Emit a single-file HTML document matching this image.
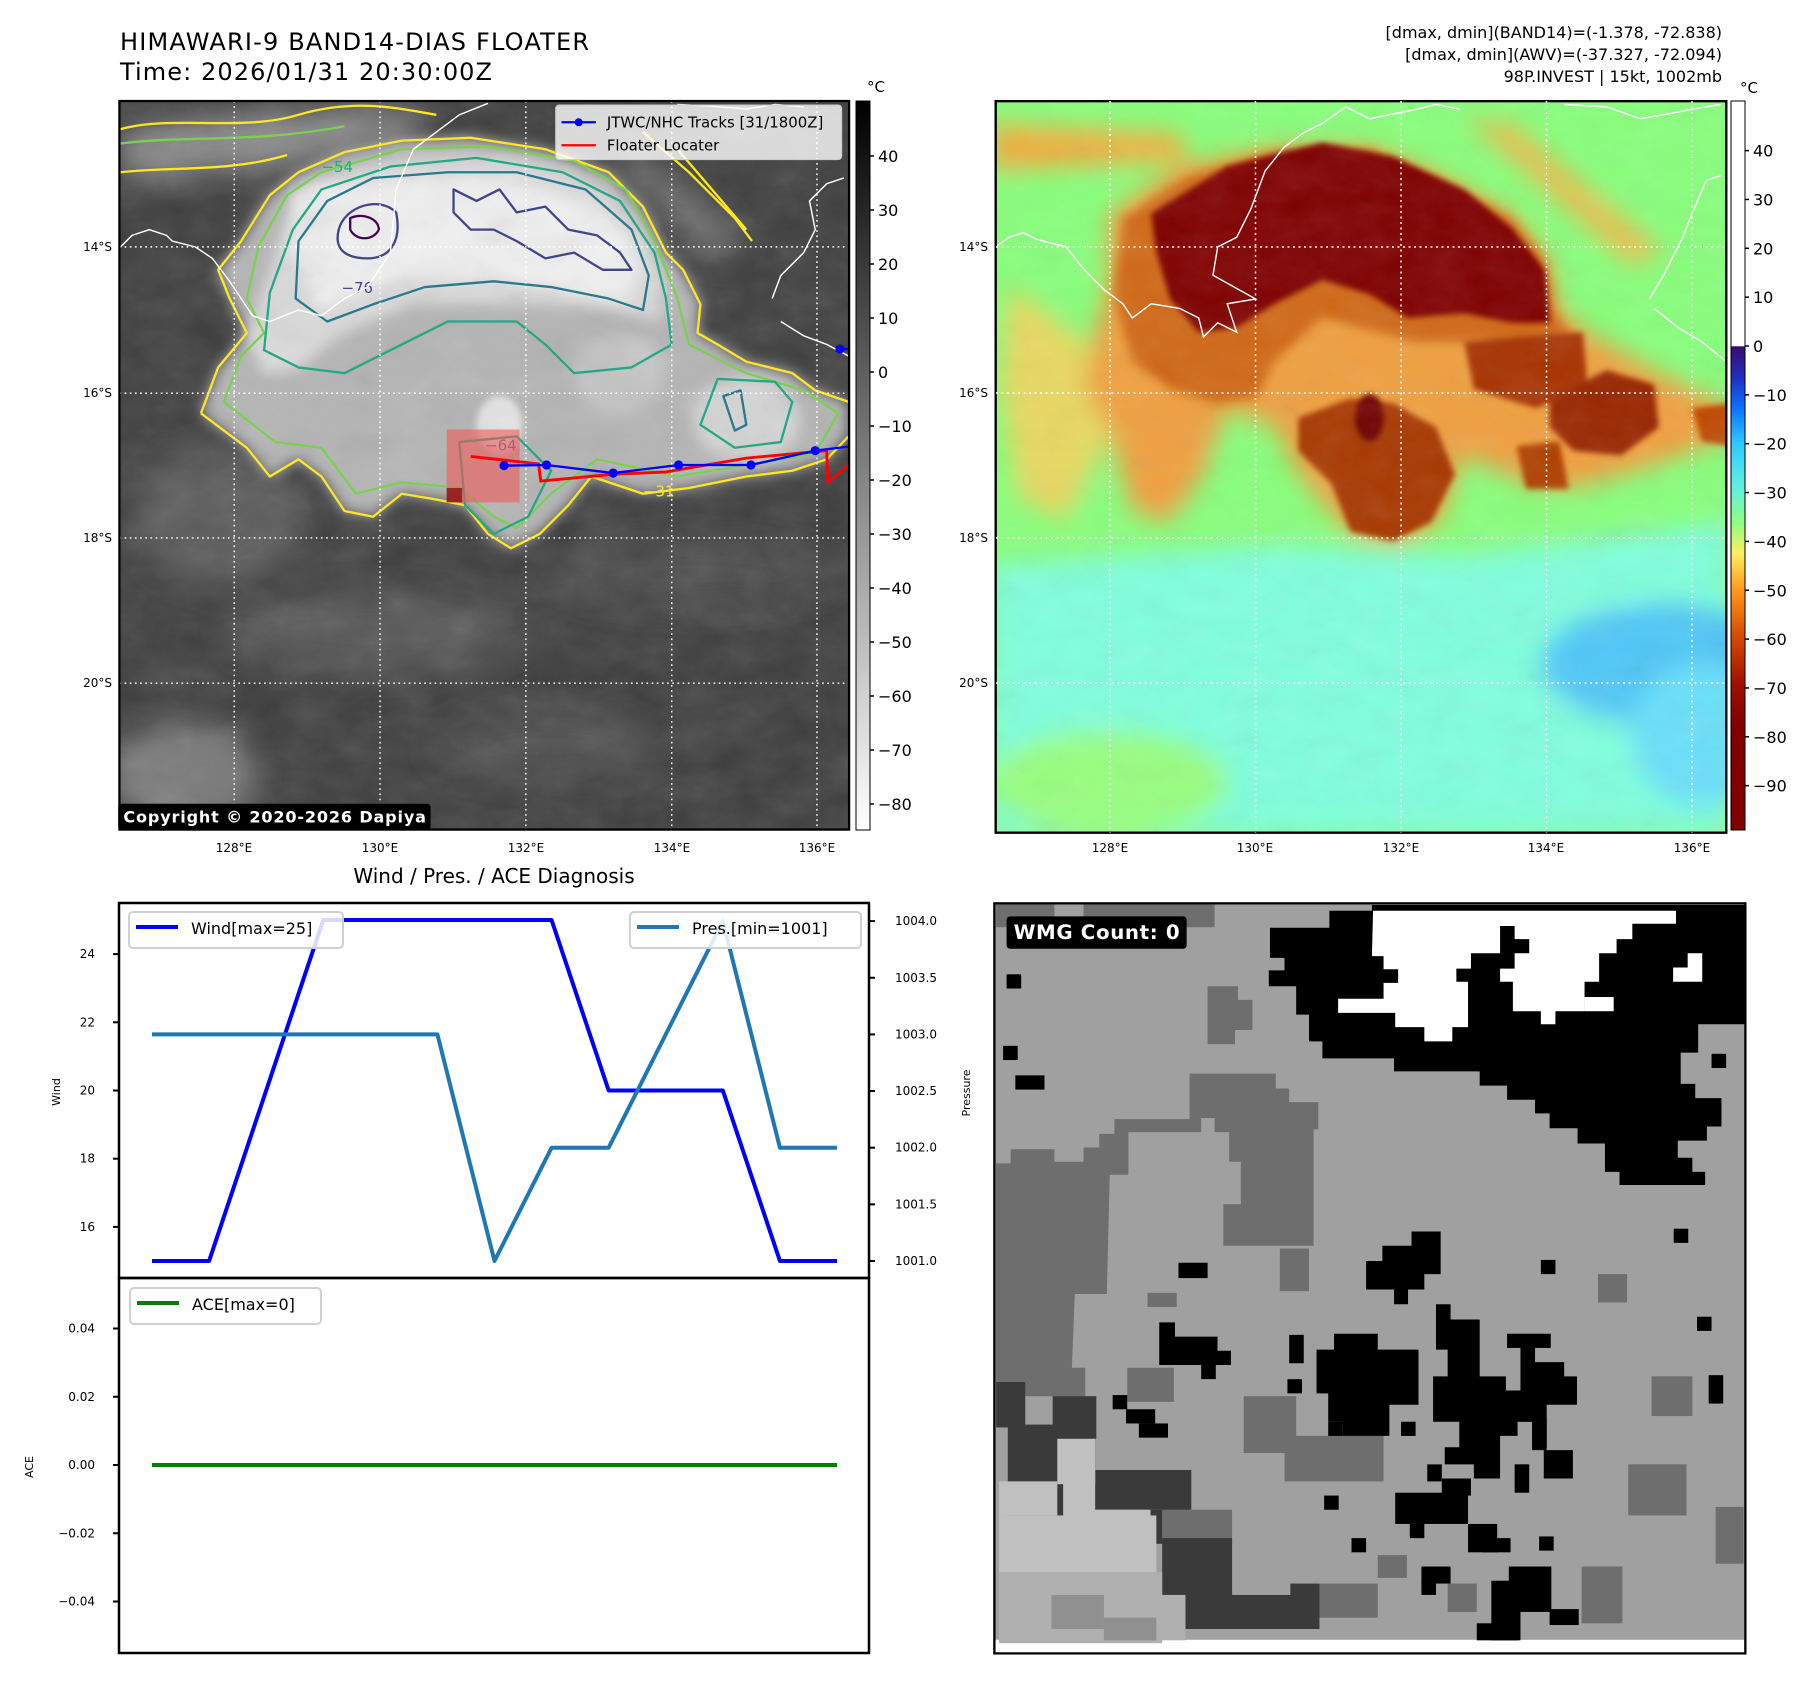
<!DOCTYPE html>
<html><head><meta charset="utf-8"><style>
html,body{margin:0;padding:0;background:#fff;}
svg{display:block;font-family:"DejaVu Sans","Liberation Sans",sans-serif;}
</style></head><body>
<svg id="fig" width="1813" height="1690" viewBox="0 0 1813 1690" xmlns="http://www.w3.org/2000/svg">
<defs>
<filter id="b12" x="-20%" y="-20%" width="140%" height="140%"><feGaussianBlur stdDeviation="12"/></filter>
<filter id="b25" x="-30%" y="-30%" width="160%" height="160%"><feGaussianBlur stdDeviation="25"/></filter>
<filter id="b6" x="-20%" y="-20%" width="140%" height="140%"><feGaussianBlur stdDeviation="6"/></filter>
<filter id="noise" x="0" y="0" width="100%" height="100%"><feTurbulence type="fractalNoise" baseFrequency="0.012 0.02" numOctaves="4" seed="7"/><feColorMatrix type="saturate" values="0"/></filter>
<clipPath id="clipL"><rect x="208" y="176" width="1271" height="1269"/></clipPath>
<clipPath id="clipR"><rect x="12" y="13" width="1540" height="1542"/></clipPath>
<linearGradient id="gGray" x1="0" y1="0" x2="0" y2="1"><stop offset="0" stop-color="#000"/><stop offset="1" stop-color="#fff"/></linearGradient>
<linearGradient id="gAwv" x1="0" y1="0" x2="0" y2="1">
<stop offset="0" stop-color="#ffffff"/><stop offset="0.336" stop-color="#ffffff"/>
<stop offset="0.337" stop-color="#3a0a70"/><stop offset="0.38" stop-color="#2030c0"/>
<stop offset="0.42" stop-color="#0a70ff"/><stop offset="0.47" stop-color="#30c8ff"/>
<stop offset="0.53" stop-color="#60f0e0"/><stop offset="0.58" stop-color="#90ff80"/>
<stop offset="0.62" stop-color="#ffee60"/><stop offset="0.67" stop-color="#ff9a20"/>
<stop offset="0.73" stop-color="#d85000"/><stop offset="0.8" stop-color="#a01000"/>
<stop offset="0.86" stop-color="#800000"/><stop offset="1" stop-color="#800000"/></linearGradient>
</defs>

<!-- Titles -->
<text x="120" y="50" font-size="24" textLength="469">HIMAWARI-9 BAND14-DIAS FLOATER</text>
<text x="120" y="80" font-size="24" textLength="372">Time: 2026/01/31 20:30:00Z</text>
<g font-size="16" text-anchor="end">
<text x="1722" y="38">[dmax, dmin](BAND14)=(-1.378, -72.838)</text>
<text x="1722" y="60">[dmax, dmin](AWV)=(-37.327, -72.094)</text>
<text x="1722" y="82">98P.INVEST | 15kt, 1002mb</text>
</g>

<!-- LEFT MAP (zoom coords scaled) -->
<g transform="scale(0.5741)">
<g clip-path="url(#clipL)">
<rect x="208" y="176" width="1271" height="1269" fill="#3e3e3e"/>
<g filter="url(#b25)">
<ellipse cx="320" cy="1350" rx="130" ry="90" fill="#7a7a7a"/>
<ellipse cx="650" cy="1100" rx="260" ry="70" fill="#565656"/>
<ellipse cx="950" cy="1300" rx="200" ry="60" fill="#505050"/>
<ellipse cx="1200" cy="1000" rx="260" ry="60" fill="#4c4c4c"/>
<ellipse cx="380" cy="900" rx="150" ry="120" fill="#5a5a5a"/>
<path d="M210,225 L400,200 600,190 760,200 700,250 500,290 380,300 210,310Z" fill="#8a8a8a"/>
<path d="M1100,250 L1300,420 1250,460 1080,300Z" fill="#707070"/>
</g>
<path d="M350,720 L380,640 430,580 400,520 380,470 420,420 470,340 520,300 600,265 700,245 820,240 950,260 1060,300 1120,360 1160,440 1190,470 1220,530 1215,580 1250,600 1300,630 1380,650 1420,680 1478,700 L1478,760 1440,800 1380,820 1300,830 1200,850 1120,860 1030,830 990,880 940,930 890,955 850,930 810,880 760,870 700,860 650,900 600,890 560,830 520,800 470,830 430,780Z" fill="#b4b4b4" filter="url(#b12)"/>
<path d="M430,580 L470,470 500,380 540,320 620,290 750,270 880,270 1000,300 1080,350 1130,420 1160,500 1150,560 1070,540 950,530 850,530 720,530 600,580 520,640 460,660Z" fill="#dadada" filter="url(#b12)"/>
<path d="M510,330 L700,310 900,310 1060,370 1120,460 1090,530 900,490 700,480 560,540 510,450Z" fill="#f0f0f0" filter="url(#b12)"/>
<ellipse cx="1300" cy="730" rx="95" ry="75" fill="#d4d4d4" filter="url(#b12)"/>
<ellipse cx="1080" cy="650" rx="80" ry="70" fill="#c4c4c4" filter="url(#b12)"/>
<ellipse cx="870" cy="740" rx="40" ry="50" fill="#e4e4e4" filter="url(#b6)"/>
<rect x="208" y="176" width="1271" height="1269" filter="url(#noise)" opacity="0.18"/>
<!-- contours -->
<g fill="none" stroke-width="4" stroke-linejoin="round">
<path d="M350,720 L380,640 430,580 400,520 380,470 420,420 470,340 520,300 600,265 700,245 820,240 950,260 1060,300 1120,360 1160,440 1190,470 1220,530 1215,580 1250,600 1300,630 1380,650 1420,680 1478,700 M1478,760 L1440,800 1380,820 1300,830 1200,850 1120,860 1030,830 990,880 940,930 890,955 850,930 810,880 760,870 700,860 650,900 600,890 560,830 520,800 470,830 430,780 350,720" stroke="#fde725"/>
<path d="M210,225 C300,200 420,230 520,200 S700,190 760,200 M210,300 C300,290 400,300 500,270" stroke="#fde725"/>
<path d="M1120,230 L1200,300 1280,380 1310,420 M1180,260 L1300,400" stroke="#fde725"/>
<path d="M390,700 L420,620 460,580 430,520 450,430 500,340 560,300 700,260 850,255 1000,280 1090,330 1140,420 1180,520 1200,600 1300,650 1400,680 1460,720 1420,790 1300,810 1180,830 1040,800 960,860 900,920 860,900 800,850 700,840 620,860 560,780 480,770Z" stroke="#7ad151"/>
<path d="M210,250 C330,235 440,250 600,220" stroke="#7ad151"/>
<path d="M460,610 L470,510 510,400 560,330 680,290 830,275 980,300 1080,350 1140,440 1160,520 1170,600 1100,640 1000,650 950,600 900,560 780,560 680,610 600,650 520,640Z" stroke="#22a884"/>
<path d="M1250,660 L1350,665 1380,700 1360,770 1280,780 1220,740Z" stroke="#22a884"/>
<path d="M800,770 L900,760 960,820 920,900 860,930 810,880Z" stroke="#22a884"/>
<path d="M515,520 L520,420 570,350 650,310 780,300 900,300 1020,330 1100,400 1130,480 1120,540 1060,520 960,500 860,490 740,500 650,530 570,560Z" stroke="#2a788e"/>
<path d="M1260,690 L1290,680 1300,740 1280,750Z" stroke="#2a788e"/>
<path d="M590,400 C600,360 660,340 690,370 C700,420 680,450 640,450 C610,450 580,440 590,400Z" stroke="#414487"/>
<path d="M790,330 L830,350 870,330 900,370 950,360 990,400 1040,410 1080,440 1100,470 1050,470 1000,440 950,450 900,420 860,400 820,400 790,370Z" stroke="#414487"/>
<path d="M610,380 C630,370 660,380 660,400 C650,420 620,420 610,400Z" stroke="#440154"/>
</g>
<g font-size="26" fill="#2a788e">
<text x="595" y="510" fill="#414487">−76</text>
<text x="845" y="785">−64</text>
<text x="560" y="300" fill="#22a884">−54</text>
<text x="1120" y="865" fill="#fde725">−31</text>
</g>
<!-- coastlines -->
<g fill="none" stroke="#fff" stroke-width="2.5">
<path d="M210,430 L230,410 260,400 290,410 300,420 340,430 370,450 400,490 420,520 440,550 470,560 520,540 560,550 600,520 640,500 680,440 690,330 720,260 760,230 800,200 850,180"/>
<path d="M1180,182 L1240,185 1300,190 1350,182 1400,186"/>
<path d="M1345,520 L1360,480 1400,440 1420,400 1410,350 1440,320 1470,310"/>
<path d="M1360,560 L1400,585 1440,600 1478,620"/>
</g>
<!-- grid -->
<g stroke="#fff" stroke-width="2.5" stroke-dasharray="3,6">
<line x1="408" y1="176" x2="408" y2="1445"/><line x1="662" y1="176" x2="662" y2="1445"/>
<line x1="916" y1="176" x2="916" y2="1445"/><line x1="1170" y1="176" x2="1170" y2="1445"/>
<line x1="1423" y1="176" x2="1423" y2="1445"/>
<line x1="208" y1="430" x2="1479" y2="430"/><line x1="208" y1="685" x2="1479" y2="685"/>
<line x1="208" y1="937" x2="1479" y2="937"/><line x1="208" y1="1190" x2="1479" y2="1190"/>
</g>
<!-- floater box & tracks -->
<rect x="778" y="748" width="127" height="127" fill="rgba(240,90,90,0.6)"/>
<rect x="778" y="850" width="27" height="25" fill="#8a1010" opacity="0.8"/>
<polyline points="820,795 938,808 942,838 1070,826 1160,822 1300,798 1440,785 1442,840 1478,810" fill="none" stroke="#ff0000" stroke-width="5"/>
<g>
<polyline points="878,811 952,810 1068,824 1182,810 1308,810 1420,785 1478,778" fill="none" stroke="#0000ff" stroke-width="4"/>
<g fill="#0000ff"><circle cx="878" cy="811" r="8"/><circle cx="952" cy="810" r="8"/><circle cx="1068" cy="824" r="8"/><circle cx="1182" cy="810" r="8"/><circle cx="1308" cy="810" r="8"/><circle cx="1420" cy="785" r="8"/><circle cx="1463" cy="608" r="8"/></g>
<line x1="1463" y1="608" x2="1479" y2="608" stroke="#0000ff" stroke-width="4"/>
</g>
</g>
<rect x="208" y="176" width="1271" height="1269" fill="none" stroke="#000" stroke-width="4"/>
<!-- legend -->
<g>
<rect x="968" y="183" width="498" height="95" rx="6" fill="rgba(255,255,255,0.8)" stroke="#ccc" stroke-width="2"/>
<line x1="978" y1="213" x2="1038" y2="213" stroke="#0000ff" stroke-width="4"/><circle cx="1008" cy="213" r="7" fill="#0000ff"/>
<text x="1057" y="222" font-size="26">JTWC/NHC Tracks [31/1800Z]</text>
<line x1="978" y1="253" x2="1038" y2="253" stroke="#ff0000" stroke-width="4"/>
<text x="1057" y="262" font-size="26">Floater Locater</text>
</g>
<g>
<rect x="206" y="1400" width="544" height="45" rx="6" fill="#000"/>
<text x="215" y="1433" font-size="28" font-weight="bold" fill="#fff" textLength="527">Copyright © 2020-2026 Dapiya</text>
</g>
</g>

<!-- left map axis labels -->
<g font-size="12">
<g text-anchor="end"><text x="112" y="251">14°S</text><text x="112" y="397">16°S</text><text x="112" y="542">18°S</text><text x="112" y="687">20°S</text></g>
<g text-anchor="middle"><text x="234" y="852">128°E</text><text x="380" y="852">130°E</text><text x="526" y="852">132°E</text><text x="672" y="852">134°E</text><text x="817" y="852">136°E</text></g>
</g>
<!-- left colorbar -->
<g>
<rect x="856" y="101" width="14" height="729" fill="url(#gGray)" stroke="#000" stroke-width="1"/>
<text x="867" y="92" font-size="15">°C</text>
<g font-size="16" id="cbL"></g>
</g>

<!-- RIGHT MAP -->
<g transform="translate(990,95) scale(0.4744)">
<g clip-path="url(#clipR)">
<rect x="12" y="13" width="1540" height="1542" fill="#88ff7c"/>
<g filter="url(#b25)">
<path d="M0,990 L600,950 1000,970 1560,900 1560,1560 0,1560Z" fill="#80ffdc"/>
<ellipse cx="1420" cy="1200" rx="260" ry="130" fill="#50c8f8"/>
<ellipse cx="1500" cy="1350" rx="150" ry="150" fill="#6ae0fa"/>
<ellipse cx="250" cy="1450" rx="250" ry="110" fill="#98ff80"/>
<path d="M0,60 L400,80 420,140 0,160Z" fill="#f0b040"/>
<path d="M1000,50 L1100,60 1420,330 1350,360Z" fill="#e8c050"/>
<path d="M40,400 L200,520 260,700 160,900 60,850 20,600Z" fill="#e8d860"/>
<path d="M250,250 L400,150 600,110 800,110 950,170 1100,250 1180,350 1200,450 1260,500 1400,580 1480,620 1560,660 1560,720 1400,780 1230,830 1130,820 1000,760 950,900 850,950 750,920 650,800 600,700 500,660 450,800 380,900 300,880 250,700 200,620 220,500 250,400Z" fill="#f0a040"/>
</g>
<path d="M280,260 L420,170 600,120 800,115 950,180 1100,260 1170,350 1190,460 1240,520 1130,540 1000,520 900,520 700,470 600,560 560,640 480,650 380,620 300,560 260,420Z" fill="#d06818" filter="url(#b12)"/>
<path d="M340,250 L500,150 700,100 850,130 1000,200 1100,280 1170,370 1180,480 1100,480 1000,460 880,470 800,420 700,390 600,440 520,490 440,500 380,430 350,330Z" fill="#800000" filter="url(#b6)"/>
<path d="M650,680 L760,640 850,650 940,700 980,800 930,900 850,940 760,920 720,820 650,750Z" fill="#a83800" filter="url(#b6)"/>
<ellipse cx="800" cy="680" rx="30" ry="50" fill="#700000" filter="url(#b6)"/>
<path d="M1000,520 L1250,500 1260,620 1150,660 1020,620Z" fill="#a83000" filter="url(#b6)"/>
<path d="M1180,640 L1300,580 1400,610 1410,700 1330,760 1230,750 1180,700Z" fill="#9a2800" filter="url(#b6)"/>
<path d="M1110,740 L1200,730 1220,830 1130,830Z" fill="#b04000" filter="url(#b6)"/>
<path d="M1480,660 L1560,650 1560,740 1500,730Z" fill="#c04800" filter="url(#b6)"/>
<rect x="12" y="13" width="1540" height="1542" filter="url(#noise)" opacity="0.12"/>
<g fill="none" stroke="#fff" stroke-width="3">
<path d="M12,320 L40,300 70,290 100,305 160,320 200,370 240,410 280,440 300,470 340,440 400,450 440,470 450,510 480,480 520,500 500,440 560,430 470,380 480,320 520,300 550,240 580,160 620,110 660,80 700,60 750,25 800,50 850,40 900,30 940,20 990,30"/>
<path d="M1210,20 L1300,25 1370,50 1430,40 1480,30 1540,20"/>
<path d="M1390,430 L1420,380 1460,300 1480,250 1510,180 1540,170"/>
<path d="M1400,450 L1450,490 1500,520 1550,560"/>
</g>
</g>
<rect x="12" y="13" width="1540" height="1542" fill="none" stroke="#000" stroke-width="5"/>
</g>
<g stroke="#fff" stroke-width="1.5" stroke-dasharray="2,3.5">
<line x1="1110" y1="101" x2="1110" y2="833"/><line x1="1255.5" y1="101" x2="1255.5" y2="833"/>
<line x1="1401" y1="101" x2="1401" y2="833"/><line x1="1546.5" y1="101" x2="1546.5" y2="833"/>
<line x1="1692" y1="101" x2="1692" y2="833"/>
<line x1="996" y1="247" x2="1725" y2="247"/><line x1="996" y1="393" x2="1725" y2="393"/>
<line x1="996" y1="538" x2="1725" y2="538"/><line x1="996" y1="683" x2="1725" y2="683"/>
</g>
<g font-size="12">
<g text-anchor="end"><text x="988" y="251">14°S</text><text x="988" y="397">16°S</text><text x="988" y="542">18°S</text><text x="988" y="687">20°S</text></g>
<g text-anchor="middle"><text x="1110" y="852">128°E</text><text x="1255" y="852">130°E</text><text x="1401" y="852">132°E</text><text x="1546" y="852">134°E</text><text x="1692" y="852">136°E</text></g>
</g>
<g>
<rect x="1731" y="101" width="14" height="729" fill="url(#gAwv)" stroke="#000" stroke-width="1"/>
<text x="1740" y="93" font-size="15">°C</text>
<g font-size="16" id="cbR"></g>
</g>

<!-- Bottom-left chart -->
<text x="494" y="883" font-size="20" text-anchor="middle">Wind / Pres. / ACE Diagnosis</text>
<g id="chart"></g>

<!-- Bottom-right WMG panel -->
<g transform="translate(900,800) scale(0.5826,0.5678)">
<rect x="162" y="182" width="1289" height="1321" fill="#fff"/>
<rect x="164" y="184" width="1285" height="1295" fill="#a0a0a0"/>
<g fill="#6e6e6e">
<rect x="165" y="184" width="100" height="40"/><rect x="315" y="184" width="225" height="40"/>
<path d="M165,640 L190,640 190,615 265,615 265,637 315,637 315,612 342,612 342,588 368,588 368,562 497,562 497,482 645,482 645,508 668,508 668,532 718,532 718,580 710,580 710,785 555,785 555,712 585,712 585,637 565,637 565,585 540,585 540,560 517,560 517,585 392,585 392,660 360,660 355,870 300,870 295,1000 318,1000 318,1050 165,1050Z"/>
<path d="M528,328 L580,328 580,352 605,352 605,405 575,405 575,430 528,430Z"/>
<rect x="652" y="790" width="50" height="75"/><rect x="425" y="868" width="50" height="25"/>
<rect x="1198" y="835" width="50" height="50"/><rect x="660" y="1120" width="170" height="80"/>
<rect x="590" y="1050" width="90" height="100"/><rect x="1250" y="1170" width="100" height="90"/>
<rect x="1400" y="1245" width="48" height="100"/><rect x="1290" y="1015" width="70" height="70"/>
<rect x="1170" y="1350" width="70" height="100"/><rect x="720" y="1380" width="100" height="60"/>
<rect x="450" y="1250" width="120" height="60"/><rect x="820" y="1330" width="50" height="40"/>
<rect x="390" y="1000" width="80" height="60"/><rect x="940" y="1380" width="50" height="50"/>
</g>
<g fill="#3a3a3a">
<rect x="165" y="1025" width="50" height="80"/><rect x="185" y="1100" width="150" height="180"/>
<rect x="262" y="1050" width="75" height="75"/><rect x="330" y="1180" width="170" height="70"/>
<rect x="425" y="1250" width="25" height="60"/><rect x="450" y="1300" width="120" height="110"/>
<rect x="490" y="1400" width="230" height="60"/><rect x="670" y="1380" width="50" height="50"/>
</g>
<g fill="#c0c0c0">
<rect x="270" y="1125" width="65" height="80"/><rect x="170" y="1200" width="100" height="60"/>
<rect x="280" y="1180" width="55" height="90"/><rect x="170" y="1260" width="270" height="100"/>
<rect x="300" y="1250" width="130" height="30"/>
</g>
<g fill="#b0b0b0"><rect x="170" y="1360" width="280" height="125"/><rect x="440" y="1400" width="50" height="80"/></g>
<g fill="#909090"><rect x="260" y="1400" width="90" height="60"/><rect x="350" y="1440" width="90" height="40"/></g>
<g fill="#000">
<path d="M737,195 L810,195 810,185 1450,185 1450,395 1370,395 1370,445 1340,445 1340,500 1365,500 1365,525 1410,525 1410,575 1385,575 1385,600 1335,600 1335,630 1360,630 1360,655 1382,655 1382,678 1235,678 1235,655 1210,655 1210,605 1163,605 1163,578 1115,578 1115,552 1090,552 1090,528 1042,528 1042,503 995,503 995,478 848,478 848,455 725,455 725,425 702,425 702,378 680,378 680,328 633,328 633,300 660,300 660,278 635,278 635,225 737,225Z"/>
<path d="M878,760 L928,760 928,835 900,835 900,862 872,862 872,888 848,888 848,862 800,862 800,812 828,812 828,785 878,785Z"/>
<path d="M745,940 L820,940 820,968 890,968 890,1065 840,1065 840,1120 760,1120 760,1095 735,1095 735,1045 715,1045 715,968 745,968Z"/>
<path d="M920,888 L945,888 945,915 995,915 995,1015 1040,1015 1040,1040 1085,1040 1085,1095 1060,1095 1060,1120 1030,1120 1030,1195 985,1195 985,1170 930,1170 930,1200 905,1200 905,1170 935,1170 935,1140 960,1140 960,1095 915,1095 915,1015 940,1015 940,968 920,968Z"/>
<path d="M1065,965 L1090,965 1090,990 1140,990 1140,1015 1162,1015 1162,1065 1110,1065 1110,1145 1155,1145 1155,1195 1105,1195 1105,1145 1085,1145 1085,1095 1065,1095Z"/>
<path d="M445,920 L472,920 472,945 545,945 545,970 568,970 568,995 542,995 542,1020 517,1020 517,995 445,995Z"/>
<rect x="1042" y="940" width="75" height="25"/><rect x="668" y="942" width="25" height="50"/>
<rect x="850" y="1220" width="125" height="55"/><rect x="930" y="1195" width="50" height="30"/>
<rect x="975" y="1275" width="50" height="50"/><rect x="1000" y="1300" width="48" height="25"/>
<rect x="1045" y="1350" width="73" height="80"/><rect x="1015" y="1375" width="50" height="105"/>
<rect x="990" y="1450" width="70" height="30"/><rect x="895" y="1350" width="50" height="30"/><rect x="895" y="1375" width="25" height="25"/>
<rect x="1115" y="1425" width="50" height="28"/><rect x="478" y="815" width="50" height="27"/>
<rect x="183" y="307" width="25" height="25"/><rect x="177" y="433" width="25" height="25"/>
<rect x="198" y="485" width="50" height="25"/><rect x="1100" y="810" width="25" height="25"/>
<rect x="1328" y="755" width="25" height="25"/><rect x="1368" y="910" width="25" height="25"/>
<rect x="1388" y="1013" width="25" height="50"/><rect x="1393" y="447" width="25" height="25"/>
<rect x="728" y="1225" width="25" height="25"/><rect x="775" y="1300" width="25" height="25"/>
<rect x="1097" y="1297" width="25" height="25"/><rect x="665" y="1020" width="25" height="25"/>
<rect x="365" y="1048" width="25" height="25"/><rect x="388" y="1073" width="50" height="25"/><rect x="410" y="1098" width="50" height="25"/>
<rect x="1055" y="1170" width="25" height="50"/><rect x="875" y="1275" width="25" height="25"/>
<rect x="735" y="1095" width="25" height="25"/><rect x="860" y="1095" width="25" height="25"/>
<rect x="1085" y="1090" width="25" height="50"/>
</g>
<g fill="#fff">
<path d="M812,195 L1332,195 1332,218 1257,218 1257,245 1230,245 1230,270 1200,270 1200,320 1175,320 1175,372 1125,372 1125,395 1100,395 1100,372 1052,372 1052,320 1030,320 1030,297 1055,297 1055,270 1080,270 1080,245 1055,245 1055,222 1030,222 1030,270 980,270 980,297 955,297 955,320 975,320 975,400 948,400 948,425 900,425 900,400 850,400 850,375 752,375 752,350 830,350 830,322 855,322 855,298 830,298 830,275 810,275Z"/>
<path d="M1327,295 L1352,295 1352,270 1377,270 1377,320 1327,320Z"/>
<rect x="1175" y="347" width="50" height="25"/>
</g>
<rect x="162" y="182" width="1289" height="1321" fill="none" stroke="#000" stroke-width="4"/>
<g>
<rect x="183" y="205" width="309" height="57" rx="6" fill="#000"/>
<text x="195" y="245" font-size="34" font-weight="bold" fill="#fff" textLength="285">WMG Count: 0</text>
</g>
</g>

<script>
// ---- chart data ----
const timeIdx = [0,1,2,3,4,5,6,7,8,9,10,11,12];
const windVals = [15,15,20,25,25,25,25,25,20,20,20,15,15];
const presVals = [1003,1003,1003,1003,1003,1003,1001,1002,1002,1003,1004,1002,1002];
const aceVals = [0,0,0,0,0,0,0,0,0,0,0,0,0];
const windTicks = [16,18,20,22,24];
const presTicks = [1001.0,1001.5,1002.0,1002.5,1003.0,1003.5,1004.0];
const aceTicks = [-0.04,-0.02,0.00,0.02,0.04];
const grayCbTicks = [40,30,20,10,0,-10,-20,-30,-40,-50,-60,-70,-80];
const awvCbTicks = [40,30,20,10,0,-10,-20,-30,-40,-50,-60,-70,-80,-90];

const NS = 'http://www.w3.org/2000/svg';
function mk(tag, attrs, parent){const e=document.createElementNS(NS,tag);for(const k in attrs)e.setAttribute(k,attrs[k]);parent.appendChild(e);return e;}
const X0=119,X1=869,TOP=903,MID=1278,BOT=1653;
const xS = i => 152 + i*(837-152)/12;
const windY = v => 1261 - (v-15)*34.1;
const presY = p => 1261 - (p-1001)*113.3;
const aceY = a => 1465 - a*(68.25/0.02);
const chart=document.getElementById('chart');
function fmtMinus(s){return String(s).replace('-','\u2212');}

const f1=mk('rect',{x:X0,y:TOP,width:X1-X0,height:MID-TOP,fill:'none',stroke:'#000','stroke-width':2.5},chart);


const f2=mk('rect',{x:X0,y:MID,width:X1-X0,height:BOT-MID,fill:'none',stroke:'#000','stroke-width':2.5},chart);



windTicks.forEach(t=>{const y=windY(t);
 mk('line',{x1:X0-6,y1:y,x2:X0,y2:y,stroke:'#000','stroke-width':2},chart);
 const tx=mk('text',{x:X0-24,y:y+4,'font-size':12,'text-anchor':'end'},chart);tx.textContent=t;
 
 });
presTicks.forEach(t=>{const y=presY(t);
 mk('line',{x1:X1,y1:y,x2:X1+6,y2:y,stroke:'#000','stroke-width':2},chart);
 const tx=mk('text',{x:X1+26,y:y+4,'font-size':12},chart);tx.textContent=t.toFixed(1);
 
 });
aceTicks.forEach(t=>{const y=aceY(t);
 mk('line',{x1:X0-6,y1:y,x2:X0,y2:y,stroke:'#000','stroke-width':2},chart);
 const tx=mk('text',{x:X0-24,y:y+4,'font-size':12,'text-anchor':'end'},chart);tx.textContent=fmtMinus(t.toFixed(2));
 
 });
const wl=mk('text',{x:0,y:0,'font-size':11,'text-anchor':'middle',transform:'translate(60,1092) rotate(-90)'},chart);wl.textContent='Wind';


const pl=mk('text',{x:0,y:0,'font-size':11,'text-anchor':'middle',transform:'translate(970,1093) rotate(-90)'},chart);pl.textContent='Pressure';


const al=mk('text',{x:0,y:0,'font-size':11,'text-anchor':'middle',transform:'translate(33,1467) rotate(-90)'},chart);al.textContent='ACE';



const wLine=mk('polyline',{points:timeIdx.map(i=>xS(i)+','+windY(windVals[i])).join(' '),fill:'none',stroke:'#0000ff','stroke-width':4,'stroke-linejoin':'round'},chart);


const pLine=mk('polyline',{points:timeIdx.map(i=>xS(i)+','+presY(presVals[i])).join(' '),fill:'none',stroke:'#1f77b4','stroke-width':4,'stroke-linejoin':'round'},chart);


const aLine=mk('polyline',{points:timeIdx.map(i=>xS(i)+','+aceY(aceVals[i])).join(' '),fill:'none',stroke:'#008000','stroke-width':4},chart);



function legend(x,y,w,color,label,name){
 const g=mk('g',{},chart);
 
 
 mk('rect',{x:x,y:y,width:w,height:36,rx:4,fill:'rgba(255,255,255,0.85)',stroke:'#d0d0d0','stroke-width':2},g);
 mk('line',{x1:x+7,y1:y+15,x2:x+49,y2:y+15,stroke:color,'stroke-width':4},g);
 const t=mk('text',{x:x+62,y:y+22,'font-size':16},g);t.textContent=label;
}
legend(129,912,214,'#0000ff','Wind[max='+Math.max(...windVals)+']','wind-legend');
legend(630,912,231,'#1f77b4','Pres.[min='+Math.min(...presVals)+']','pressure-legend');
legend(130,1288,191,'#008000','ACE[max='+Math.max(...aceVals)+']','ace-legend');

const cbL=document.getElementById('cbL');
grayCbTicks.forEach(v=>{const y=372-v*5.4;
 mk('line',{x1:870,y1:y,x2:874,y2:y,stroke:'#000','stroke-width':1.5},cbL);
 const t=mk('text',{x:878,y:y+6},cbL);t.textContent=fmtMinus(v);
 
 });
const cbR=document.getElementById('cbR');
awvCbTicks.forEach(v=>{const y=346-v*4.885;
 mk('line',{x1:1745,y1:y,x2:1749,y2:y,stroke:'#000','stroke-width':1.5},cbR);
 const t=mk('text',{x:1753,y:y+6},cbR);t.textContent=fmtMinus(v);
 
 });
</script>
</svg>
</body></html>
